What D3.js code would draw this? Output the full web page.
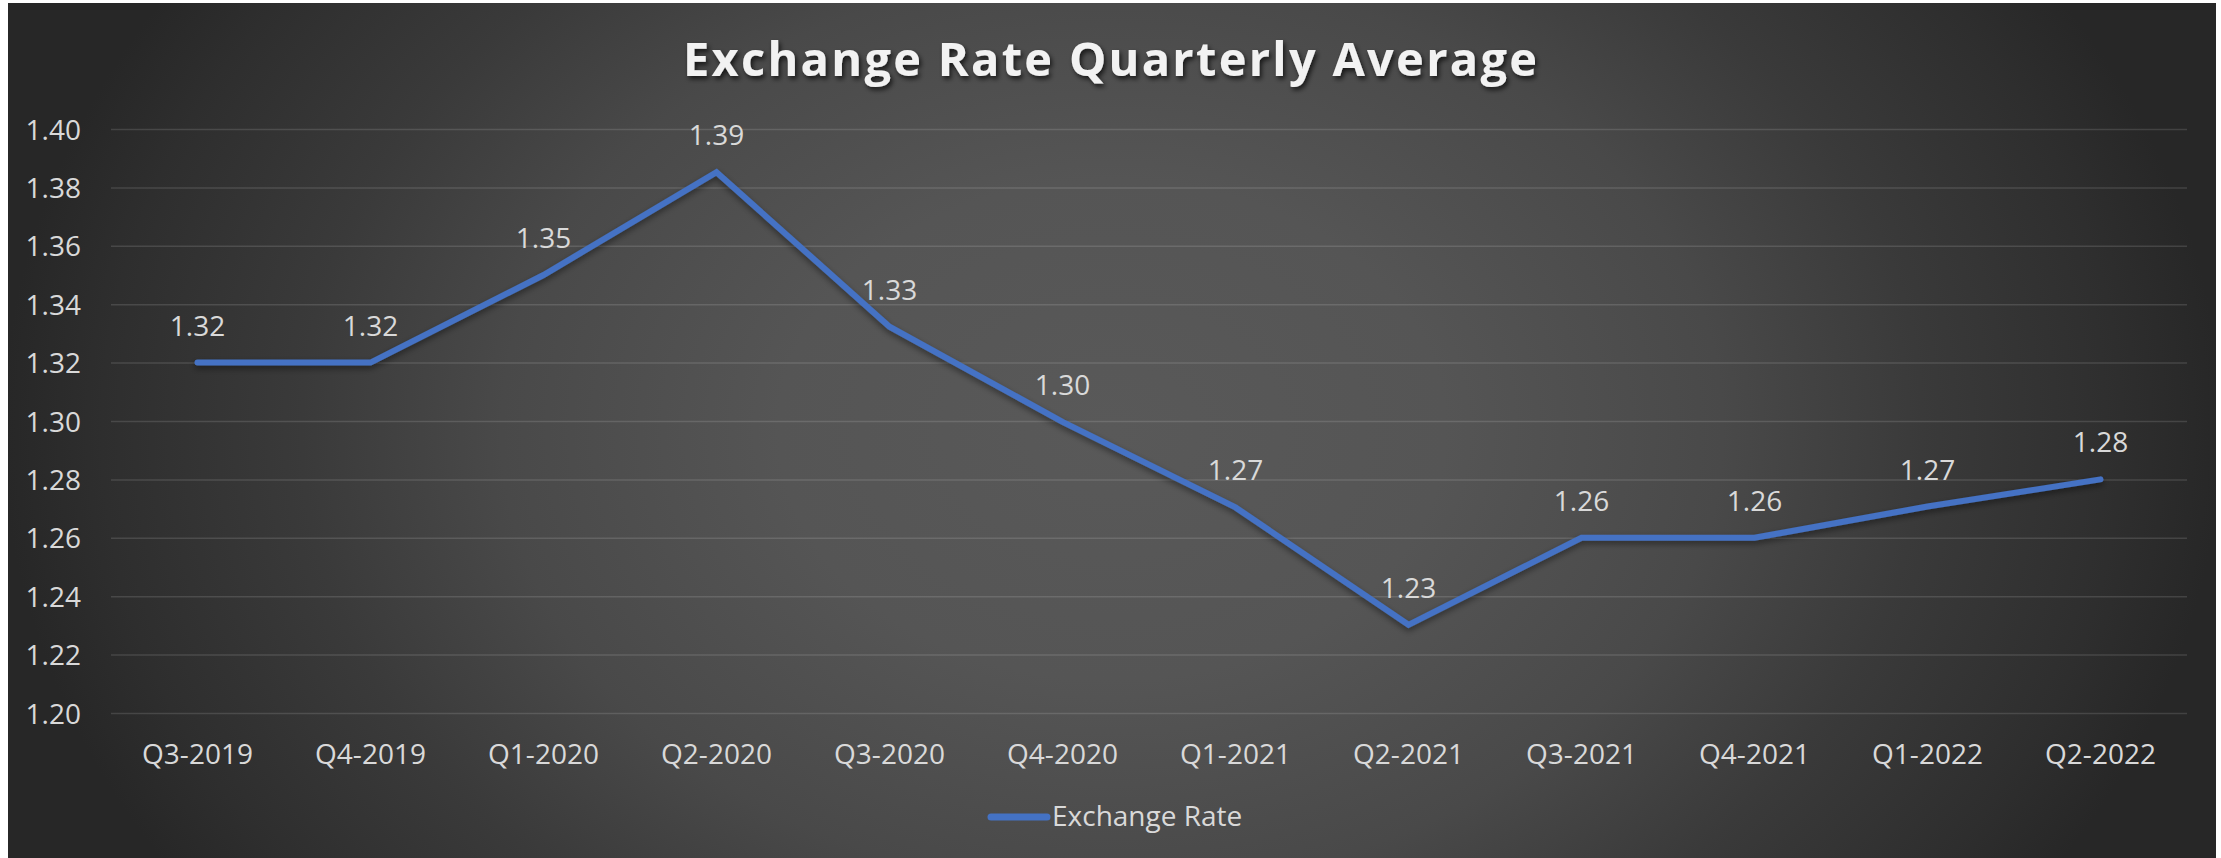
<!DOCTYPE html>
<html>
<head>
<meta charset="utf-8">
<script src="https://cdn.jsdelivr.net/npm/d3@7"></script>
<style>
  html, body { margin: 0; padding: 0; background: #ffffff; }
  svg { display: block; }
</style>
</head>
<body>
<svg id="chart" width="2221" height="858"></svg>
<script>
// ---- data ----
const categories = ["Q3-2019","Q4-2019","Q1-2020","Q2-2020","Q3-2020","Q4-2020",
                    "Q1-2021","Q2-2021","Q3-2021","Q4-2021","Q1-2022","Q2-2022"];
const exchangeRate = [1.3200, 1.3200, 1.3500, 1.3852, 1.3323, 1.2997,
                      1.2704, 1.2302, 1.2600, 1.2600, 1.2707, 1.2800];
const yTicks = [1.20, 1.22, 1.24, 1.26, 1.28, 1.30, 1.32, 1.34, 1.36, 1.38, 1.40];
const seriesName = "Exchange Rate";
const chartTitle = "Exchange Rate Quarterly Average";

// ---- layout ----
const W = 2221, H = 858;
const frame = {x: 8, y: 3, w: 2208, h: 855};
const plot = {left: 111, right: 2187, top: 129, bottom: 713};
const FONT = "'Open Sans', 'Liberation Sans', sans-serif";
const textColor = "#d9d9d9";
const lineColor = "#4472C4";

const svg = d3.select("#chart");
const defs = svg.append("defs");

// background radial gradient
const grad = defs.append("radialGradient")
  .attr("id", "bg")
  .attr("gradientUnits", "userSpaceOnUse")
  .attr("cx", 1112).attr("cy", 430).attr("r", 1110)
  .attr("gradientTransform", "translate(1112,430) scale(1,0.75) translate(-1112,-430)");
[[0, "#595959"], [0.3, "#555555"], [0.55, "#494949"], [0.73, "#3a3a3a"], [0.91, "#2e2e2e"], [1, "#272727"]]
  .forEach(([o, c]) => grad.append("stop").attr("offset", o).attr("stop-color", c));

// shadows
const tf = defs.append("filter").attr("id", "titleShadow")
  .attr("x", "-5%").attr("y", "-30%").attr("width", "110%").attr("height", "160%");
tf.append("feDropShadow").attr("dx", 2).attr("dy", 3).attr("stdDeviation", 2.5)
  .attr("flood-color", "#000").attr("flood-opacity", 0.7);
const lf = defs.append("filter").attr("id", "lineShadow")
  .attr("x", "-5%").attr("y", "-10%").attr("width", "110%").attr("height", "130%");
lf.append("feDropShadow").attr("dx", 0).attr("dy", 3).attr("stdDeviation", 3)
  .attr("flood-color", "#000").attr("flood-opacity", 0.45);

svg.append("rect")
  .attr("x", frame.x).attr("y", frame.y).attr("width", frame.w).attr("height", frame.h)
  .attr("fill", "url(#bg)");

// ---- scales ----
const x = d3.scaleBand().domain(categories).range([plot.left, plot.right]).padding(0);
const y = d3.scaleLinear().domain([1.20, 1.40]).range([plot.bottom, plot.top]);
const cx = d => x(d) + x.bandwidth() / 2;
const fmt = d3.format(".2f");

// ---- gridlines ----
const yAxis = d3.axisLeft(y).tickValues(yTicks).tickFormat(fmt)
  .tickSize(-(plot.right - plot.left)).tickPadding(30);
const gy = svg.append("g").attr("transform", `translate(${plot.left},0)`).call(yAxis);
gy.select(".domain").remove();
gy.selectAll(".tick line").attr("stroke", "#ffffff").attr("stroke-opacity", 0.13).attr("stroke-width", 1.5);
gy.selectAll(".tick text")
  .attr("fill", textColor).attr("font-family", FONT).attr("font-size", 28)
  .attr("dy", "0.36em");

// ---- x axis labels ----
const xAxis = d3.axisBottom(x).tickSize(0).tickPadding(0);
const gx = svg.append("g").attr("transform", `translate(0,${plot.bottom})`).call(xAxis);
gx.select(".domain").remove();
gx.selectAll(".tick text")
  .attr("fill", textColor).attr("font-family", FONT).attr("font-size", 28)
  .attr("y", 51).attr("dy", 0);

// ---- line ----
const line = d3.line().x((d, i) => cx(categories[i])).y(d => y(d));
svg.append("path")
  .datum(exchangeRate)
  .attr("d", line)
  .attr("fill", "none")
  .attr("stroke", lineColor)
  .attr("stroke-width", 6)
  .attr("stroke-linejoin", "miter")
  .attr("stroke-linecap", "round")
  .attr("filter", "url(#lineShadow)");

// ---- data labels ----
svg.append("g").selectAll("text")
  .data(exchangeRate)
  .join("text")
  .attr("x", (d, i) => cx(categories[i]))
  .attr("y", d => y(d) - 27)
  .attr("text-anchor", "middle")
  .attr("fill", textColor)
  .attr("font-family", FONT)
  .attr("font-size", 28)
  .text(d => fmt(d));

// ---- title ----
svg.append("text")
  .attr("x", 1110).attr("y", 76)
  .attr("text-anchor", "middle")
  .attr("fill", "#f2f2f2")
  .attr("font-family", FONT)
  .attr("font-weight", "bold")
  .attr("font-size", 47)
  .attr("textLength", 854)
  .attr("lengthAdjust", "spacing")
  .attr("filter", "url(#titleShadow)")
  .text(chartTitle);

// ---- legend ----
const lg = svg.append("g");
lg.append("line")
  .attr("x1", 991).attr("x2", 1047).attr("y1", 817).attr("y2", 817)
  .attr("stroke", lineColor).attr("stroke-width", 7).attr("stroke-linecap", "round");
lg.append("text")
  .attr("x", 1052).attr("y", 826)
  .attr("fill", textColor).attr("font-family", FONT).attr("font-size", 28)
  .text(seriesName);
</script>
</body>
</html>
